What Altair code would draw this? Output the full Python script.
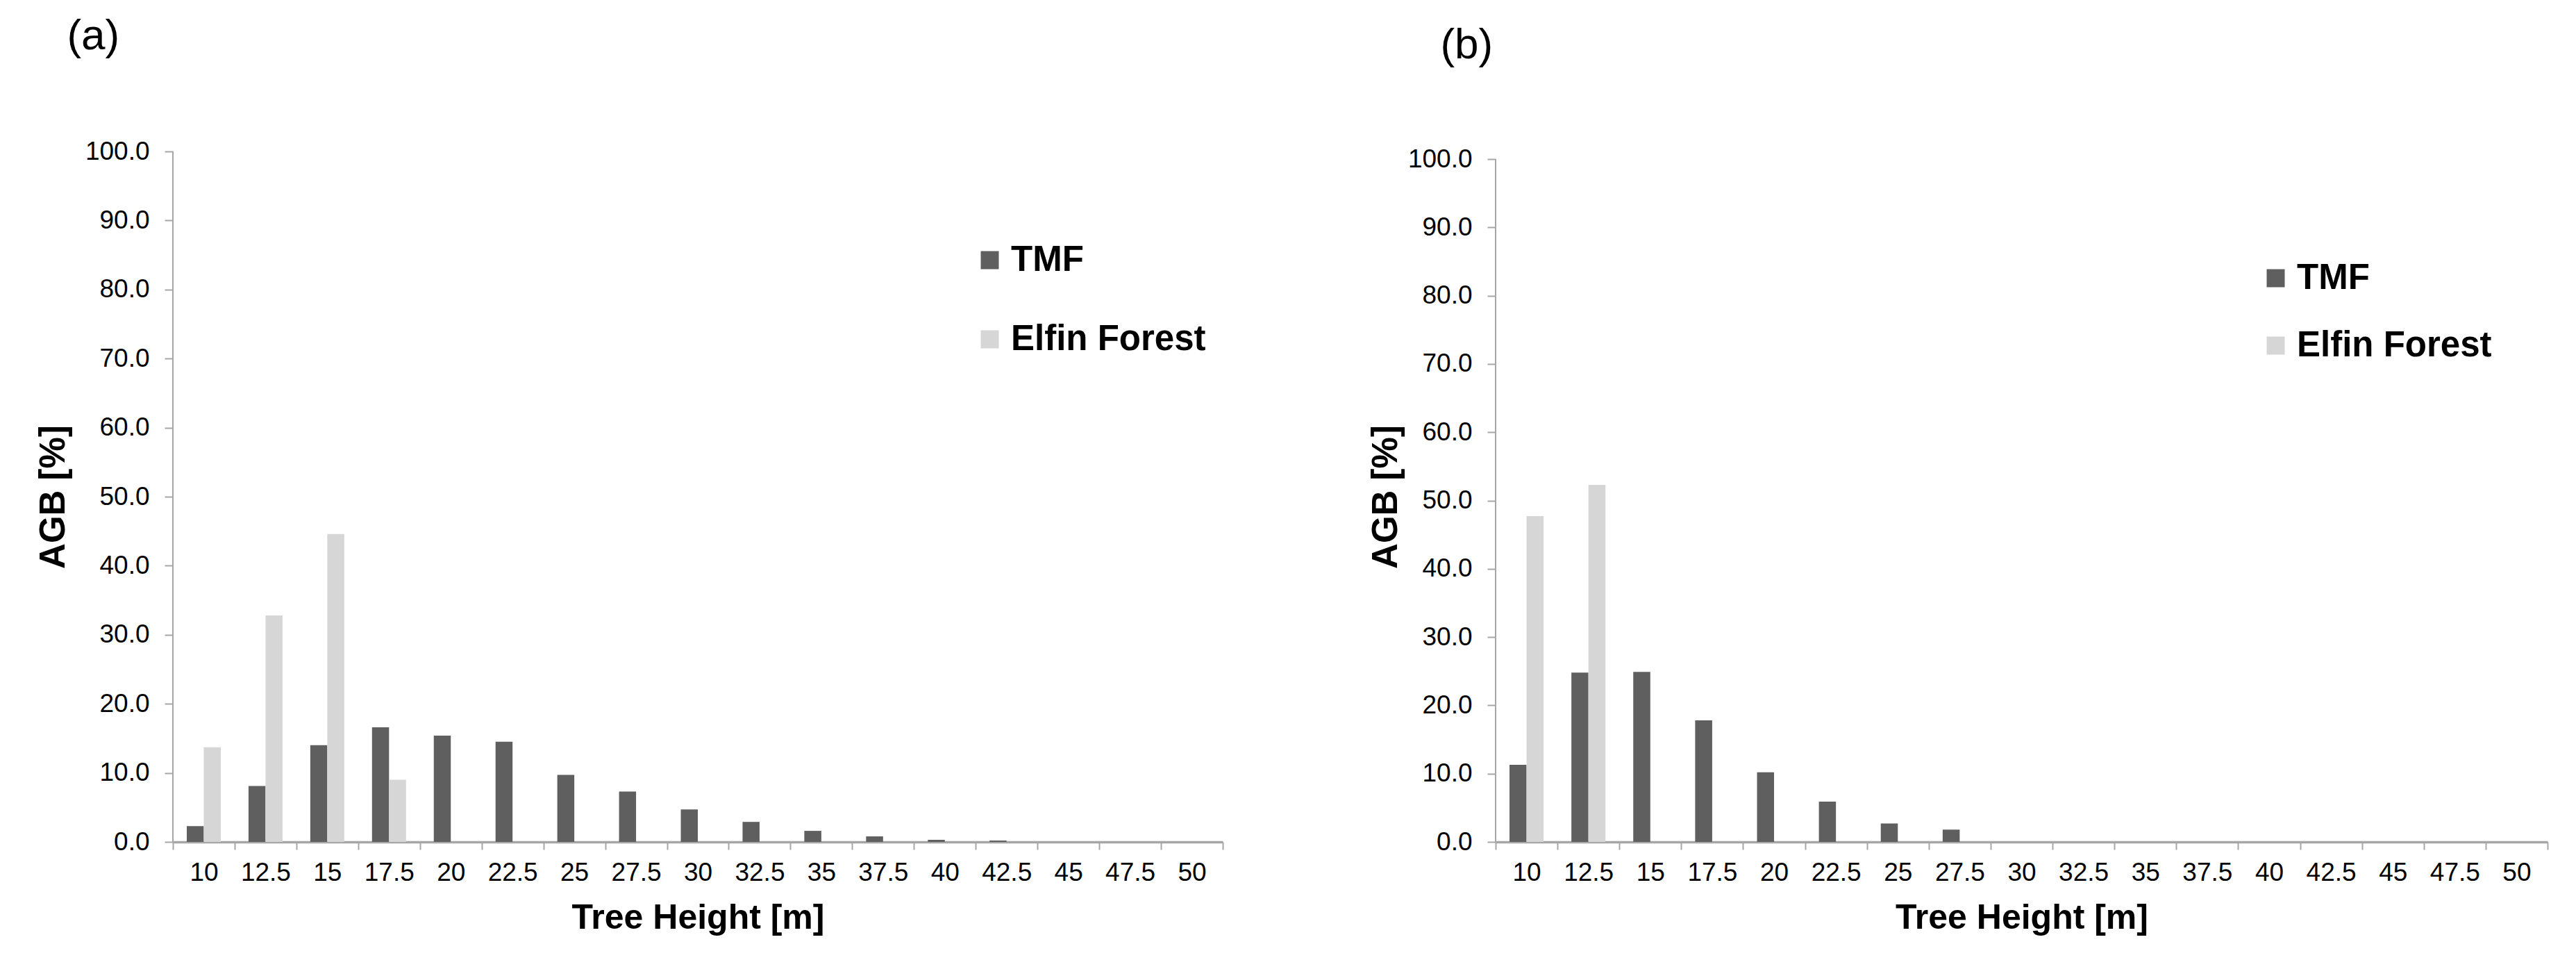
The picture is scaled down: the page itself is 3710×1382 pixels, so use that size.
import altair as alt
import pandas as pd

heights = ["10", "12.5", "15", "17.5", "20", "22.5", "25", "27.5", "30",
           "32.5", "35", "37.5", "40", "42.5", "45", "47.5", "50"]
series = ["TMF", "Elfin Forest"]

tmf_a = [2.3, 8.1, 14.0, 16.6, 15.4, 14.5, 9.7, 7.3, 4.7, 2.9, 1.6, 0.8, 0.3, 0.2, 0.0, 0.0, 0.0]
elfin_a = [13.7, 32.8, 44.6, 9.0, 0.0, 0.0, 0.0, 0.0, 0.0, 0.0, 0.0, 0.0, 0.0, 0.0, 0.0, 0.0, 0.0]
tmf_b = [11.3, 24.8, 24.9, 17.8, 10.2, 5.9, 2.7, 1.8, 0.0, 0.0, 0.0, 0.0, 0.0, 0.0, 0.0, 0.0, 0.0]
elfin_b = [47.7, 52.3, 0.0, 0.0, 0.0, 0.0, 0.0, 0.0, 0.0, 0.0, 0.0, 0.0, 0.0, 0.0, 0.0, 0.0, 0.0]
y_ticks = [0, 10, 20, 30, 40, 50, 60, 70, 80, 90, 100]

FONT = "Liberation Sans"
GRAY = "#a6a6a6"
COLORS = ["#5f5f5f", "#d6d6d6"]


def panel(tmf, elfin, label, width, ymax, lx, ly, row_pad, tdx, tdy, ytp):
    df = pd.DataFrame({
        "height": heights + heights,
        "series": [series[0]] * len(heights) + [series[1]] * len(heights),
        "agb": tmf + elfin,
    })
    yscale = alt.Scale(domain=[0, ymax], nice=False, zero=True)
    bars = alt.Chart(df).mark_bar().encode(
        x=alt.X("height:N", sort=heights,
                scale=alt.Scale(paddingInner=0, paddingOuter=0),
                axis=alt.Axis(title="Tree Height [m]", labelAngle=0, tickBand="extent",
                              labelFont=FONT, labelFontSize=37, labelColor="black",
                              labelPadding=15, tickSize=11, tickWidth=2, tickColor=GRAY,
                              domainColor=GRAY, domainWidth=3.5, grid=False,
                              titleFont=FONT, titleFontSize=50, titleFontWeight="bold",
                              titleColor="black", titlePadding=22)),
        xOffset=alt.XOffset("series:N", sort=series,
                            scale=alt.Scale(paddingInner=0, paddingOuter=0.816)),
        y=alt.Y("agb:Q", scale=yscale,
                axis=alt.Axis(title="AGB [%]", values=y_ticks, format=".1f", domain=False,
                              labelFont=FONT, labelFontSize=37, labelColor="black",
                              labelPadding=22, tickSize=12, tickWidth=2, tickColor=GRAY,
                              grid=False, titleFont=FONT, titleFontSize=51,
                              titleFontWeight="bold", titleColor="black", titlePadding=ytp)),
        color=alt.Color("series:N", sort=series,
                        scale=alt.Scale(domain=series, range=COLORS),
                        legend=alt.Legend(title=None, orient="none", legendX=lx, legendY=ly,
                                          direction="vertical", symbolType="square",
                                          symbolSize=676, symbolStrokeWidth=0,
                                          symbolOpacity=1, labelFont=FONT, labelFontSize=51,
                                          labelFontWeight="bold", labelColor="black",
                                          labelLimit=0, labelOffset=5, rowPadding=row_pad,
                                          padding=0)),
    )
    yline = alt.Chart(pd.DataFrame({"v": [0]})).mark_rule(color=GRAY, strokeWidth=2).encode(
        x=alt.value(0), y=alt.datum(0), y2=alt.datum(100))
    return alt.layer(bars, yline).properties(
        width=width, height=994,
        title=alt.TitleParams(label, anchor="start", frame="bounds", font=FONT,
                              fontSize=62, fontWeight="normal", color="black",
                              dx=tdx, dy=tdy, offset=115),
    )


pa = panel(tmf_a, elfin_a, "(a)", 1512, 100.0, 1151, 131, 62, 45, 0, 19)
pb = panel(tmf_b, elfin_b, "(b)", 1515, 100.0 * 994 / 983, 1098, 157, 45, 104, 2, 5)

chart = alt.hconcat(pa, pb, spacing=208).resolve_scale(
    x="independent", y="independent", color="independent", xOffset="independent"
).resolve_legend(color="independent").properties(
    padding={"left": 43, "top": 13, "right": 10, "bottom": 10},
    background="white",
).configure_view(stroke=None)

chart.save("out.html", embed_options={"renderer": "svg", "actions": False})
